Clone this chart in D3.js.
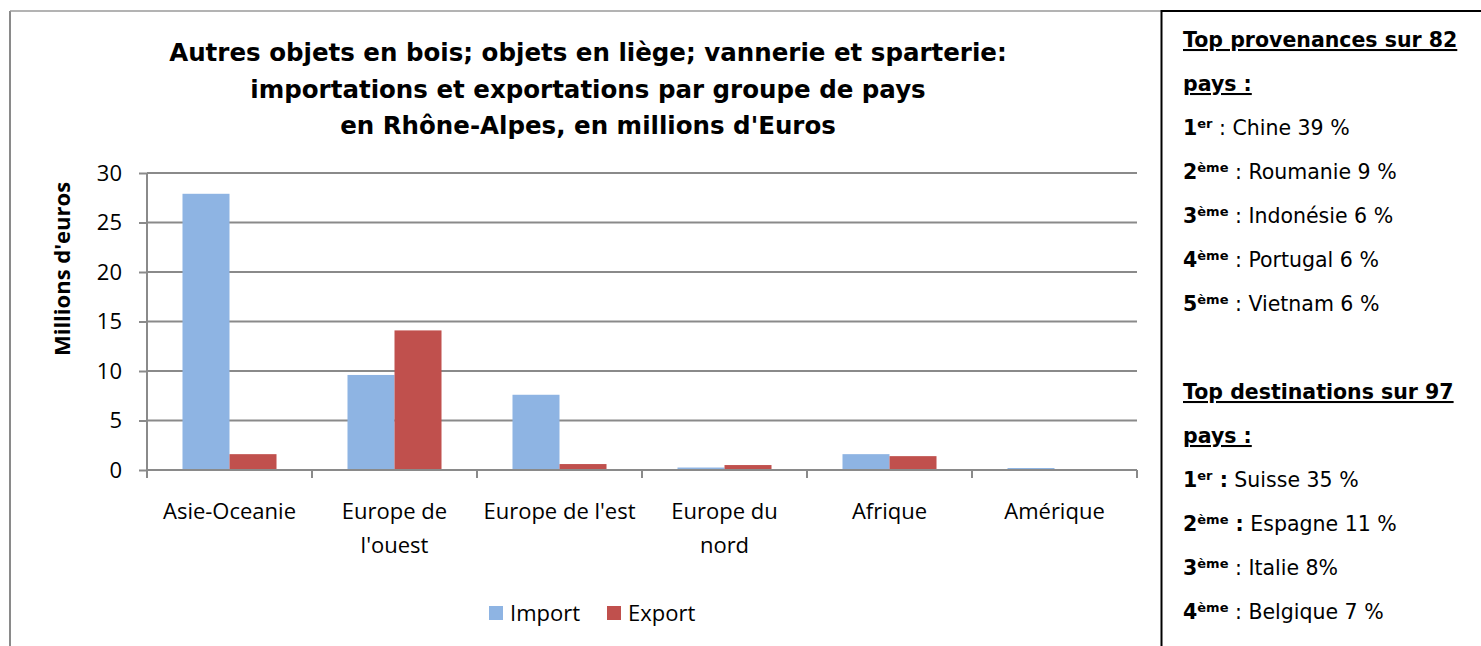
<!DOCTYPE html>
<html>
<head>
<meta charset="utf-8">
<script src="https://cdn.jsdelivr.net/npm/d3@7"></script>
<style>
  html, body { margin: 0; padding: 0; background: #fff; }
  svg { display: block; }
</style>
</head>
<body>
<svg id="chart" width="1481" height="646"></svg>
<script>
// données
const categories = ["Asie-Oceanie", "Europe de l'ouest", "Europe de l'est", "Europe du nord", "Afrique", "Amérique"];
const importValues = [27.9, 9.6, 7.6, 0.25, 1.6, 0.2];
const exportValues = [1.6, 14.1, 0.6, 0.5, 1.4, 0.05];
const yTicks = [0, 5, 10, 15, 20, 25, 30];
const seriesNames = ["Import", "Export"];
const titleLines = [
  "Autres objets en bois; objets en liège; vannerie et sparterie:",
  "importations et exportations par groupe de pays",
  "en Rhône-Alpes, en millions d'Euros"
];
const yAxisTitle = "Millions d'euros";

// panneau de droite
const provenancesTitle = ["Top provenances sur 82", "pays :"];
const provenancesRank = ["1", "2", "3", "4", "5"];
const provenancesSup = ["er", "ème", "ème", "ème", "ème"];
const provenancesText = ["Chine 39 %", "Roumanie 9 %", "Indonésie 6 %", "Portugal 6 %", "Vietnam 6 %"];
const destinationsTitle = ["Top destinations sur 97", "pays :"];
const destinationsRank = ["1", "2", "3", "4"];
const destinationsSup = ["er", "ème", "ème", "ème"];
const destinationsText = ["Suisse 35 %", "Espagne 11 %", "Italie 8%", "Belgique 7 %"];
const destinationsBoldColon = [true, true, false, false];

const colors = { Import: "#8EB4E3", Export: "#C0504D" };
const gridColor = "#8a8a8a";
const labelFont = "'Open Sans', 'Noto Sans', sans-serif";
const titleFont = "'DejaVu Sans', sans-serif";

const svg = d3.select("#chart");

// cadre
svg.append("line").attr("x1", 10).attr("y1", 11).attr("x2", 10).attr("y2", 646)
  .attr("stroke", "#8a8a8a").attr("stroke-width", 2);
svg.append("line").attr("x1", 10).attr("y1", 11).attr("x2", 1161).attr("y2", 11)
  .attr("stroke", "#9a9a9a").attr("stroke-width", 1.5);
svg.append("line").attr("x1", 1161).attr("y1", 11).attr("x2", 1481).attr("y2", 11)
  .attr("stroke", "#000").attr("stroke-width", 2);
svg.append("line").attr("x1", 1161.5).attr("y1", 10).attr("x2", 1161.5).attr("y2", 646)
  .attr("stroke", "#000").attr("stroke-width", 2);

// titre
svg.append("g").selectAll("text")
  .data(titleLines).enter().append("text")
  .attr("x", 588).attr("y", (d, i) => 61 + i * 36.5)
  .attr("text-anchor", "middle")
  .style("font-family", titleFont).style("font-weight", "bold").style("font-size", "24.5px")
  .attr("fill", "#000")
  .text(d => d);

// zone de tracé
const plot = { left: 147, right: 1137, top: 173, bottom: 470 };

const x0 = d3.scaleBand().domain(categories).range([plot.left, plot.right]).paddingInner(0).paddingOuter(0);
const x1 = d3.scaleBand().domain(seriesNames).range([0, x0.bandwidth()]).paddingInner(0).paddingOuter(0.755);
const y = d3.scaleLinear().domain([0, 30]).range([plot.bottom, plot.top]);

// quadrillage
svg.append("g").selectAll("line")
  .data(yTicks.filter(d => d > 0)).enter().append("line")
  .attr("x1", plot.left).attr("x2", plot.right)
  .attr("y1", d => y(d)).attr("y2", d => y(d))
  .attr("stroke", gridColor).attr("stroke-width", 2);

// barres
const rows = categories.map((c, i) => ({ cat: c, values: [
  { key: "Import", value: importValues[i] },
  { key: "Export", value: exportValues[i] }
]}));

svg.append("g").selectAll("g")
  .data(rows).enter().append("g")
  .attr("transform", d => `translate(${x0(d.cat)},0)`)
  .selectAll("rect")
  .data(d => d.values).enter().append("rect")
  .attr("x", d => x1(d.key))
  .attr("width", x1.bandwidth())
  .attr("y", d => y(d.value))
  .attr("height", d => y(0) - y(d.value))
  .attr("fill", d => colors[d.key]);

// axe Y
const yAxis = svg.append("g")
  .attr("transform", `translate(${plot.left},0)`)
  .call(d3.axisLeft(y).tickValues(yTicks).tickSize(8).tickPadding(17));
yAxis.select(".domain").attr("stroke", gridColor).attr("stroke-width", 2)
  .attr("d", `M0,${plot.top}V${plot.bottom}`);
yAxis.selectAll(".tick line").attr("stroke", gridColor).attr("stroke-width", 2);
yAxis.selectAll(".tick text")
  .style("font-family", labelFont).style("font-size", "22px").attr("fill", "#000");

// axe X
const xAxis = svg.append("g")
  .attr("transform", `translate(0,${plot.bottom})`)
  .call(d3.axisBottom(x0).tickSize(0).tickPadding(0).tickFormat(""));
xAxis.select(".domain").attr("stroke", gridColor).attr("stroke-width", 2)
  .attr("d", `M${plot.left},0H${plot.right}`);
xAxis.selectAll(".tick line").remove();

// graduations entre catégories
const boundaries = categories.map(c => x0(c)).concat([plot.right]);
xAxis.append("g").selectAll("line")
  .data(boundaries).enter().append("line")
  .attr("x1", d => d).attr("x2", d => d)
  .attr("y1", 0).attr("y2", 8)
  .attr("stroke", gridColor).attr("stroke-width", 2);

// libellés des catégories (retour à la ligne comme Excel)
const catLabels = svg.append("g").selectAll("text")
  .data(categories).enter().append("text")
  .attr("x", d => x0(d) + x0.bandwidth() / 2)
  .attr("y", 519)
  .attr("text-anchor", "middle")
  .style("font-family", labelFont).style("font-size", "22px").attr("fill", "#000");

catLabels.each(function (d) {
  const el = d3.select(this);
  const words = d.split(" ");
  const maxW = x0.bandwidth() - 12;
  let lines = [], line = [];
  const probe = el.append("tspan");
  words.forEach(w => {
    line.push(w);
    probe.text(line.join(" "));
    if (probe.node().getComputedTextLength() > maxW && line.length > 1) {
      line.pop();
      lines.push(line.join(" "));
      line = [w];
    }
  });
  lines.push(line.join(" "));
  probe.remove();
  lines.forEach((l, i) => {
    el.append("tspan").attr("x", x0(d) + x0.bandwidth() / 2).attr("dy", i === 0 ? 0 : 34).text(l);
  });
});

// titre axe Y
svg.append("text")
  .attr("transform", "translate(70,269) rotate(-90)")
  .attr("text-anchor", "middle")
  .style("font-family", labelFont).style("font-weight", "bold").style("font-size", "22px")
  .attr("fill", "#000")
  .text(yAxisTitle);

// légende
const legendItems = [{ key: "Import", x: 489 }, { key: "Export", x: 607 }];
const legend = svg.append("g").selectAll("g")
  .data(legendItems).enter().append("g")
  .attr("transform", d => `translate(${d.x},606)`);
legend.append("rect").attr("width", 14).attr("height", 14).attr("fill", d => colors[d.key]);
legend.append("text").attr("x", 21).attr("y", 15)
  .style("font-family", labelFont).style("font-size", "22px").attr("fill", "#000")
  .text(d => d.key);

// panneau de droite
const panelFont = "'DejaVu Sans', sans-serif";
const panelX = 1183;
const lineStep = 44;

function drawHeading(lines, y0) {
  lines.forEach((l, i) => {
    svg.append("text").attr("x", panelX).attr("y", y0 + i * lineStep)
      .style("font-family", panelFont).style("font-weight", "bold").style("font-size", "20.5px")
      .style("text-decoration", "underline")
      .attr("fill", "#000").text(l);
  });
}

function drawRanks(ranks, sups, texts, boldColon, y0) {
  ranks.forEach((r, i) => {
    const t = svg.append("text").attr("x", panelX).attr("y", y0 + i * lineStep)
      .style("font-family", panelFont).style("font-size", "20.5px").attr("fill", "#000");
    t.append("tspan").style("font-weight", "bold").text(r);
    t.append("tspan").style("font-weight", "bold").style("font-size", "13px").attr("dy", -7).text(sups[i]);
    t.append("tspan").attr("dy", 7).style("font-weight", boldColon && boldColon[i] ? "bold" : "normal").text(" :");
    t.append("tspan").style("font-weight", "normal").text(" " + texts[i]);
  });
}

drawHeading(provenancesTitle, 47);
drawRanks(provenancesRank, provenancesSup, provenancesText, null, 135);
drawHeading(destinationsTitle, 399);
drawRanks(destinationsRank, destinationsSup, destinationsText, destinationsBoldColon, 487);
</script>
</body>
</html>
